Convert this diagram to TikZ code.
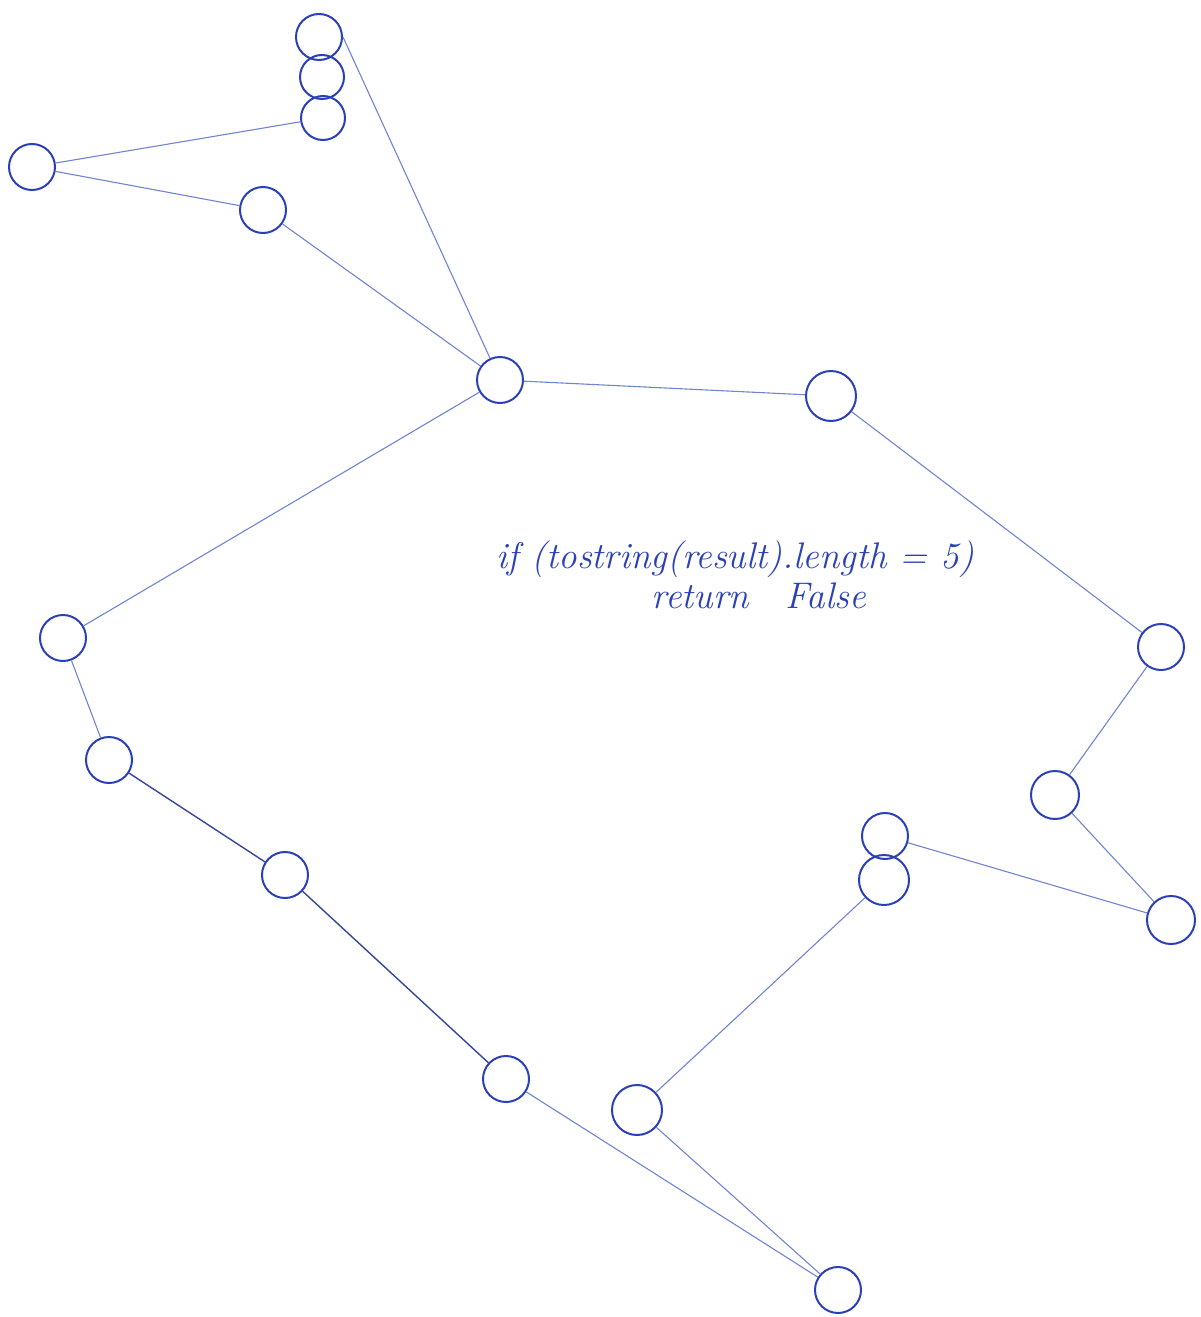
\documentclass[tikz,border=0pt]{standalone}
\usetikzlibrary{calc}
\definecolor{ink}{HTML}{2B40B8}
\definecolor{edgeink}{HTML}{6F84D2}
\definecolor{darkedge}{HTML}{34459A}
\begin{document}
\begin{tikzpicture}[x=1pt,y=-1pt,
  vtx/.style={circle,draw=ink,line width=2pt,minimum size=46pt,inner sep=0pt},
  edge/.style={draw=edgeink,line width=1.1pt},
  dedge/.style={draw=darkedge,line width=1.4pt}]
\useasboundingbox (0,0) rectangle (1201,1317);
\node[vtx] (a1) at (319,37) {};
\node[vtx,minimum size=44pt] (a2) at (322,77) {};
\node[vtx,minimum size=44pt] (a3) at (323,118) {};
\node[vtx] (b) at (32,167) {};
\node[vtx] (c) at (263,210) {};
\node[vtx] (d) at (500,380) {};
\node[vtx,minimum size=50pt] (e) at (831,396) {};
\node[vtx] (f) at (63,638) {};
\node[vtx] (g) at (109,760) {};
\node[vtx] (h) at (285,875) {};
\node[vtx] (i) at (506,1079) {};
\node[vtx,minimum size=50pt] (j) at (637,1110) {};
\node[vtx] (k) at (838,1290) {};
\node[vtx] (l) at (1161,647) {};
\node[vtx,minimum size=48pt] (m) at (1055,795) {};
\node[vtx,minimum size=48pt] (n) at (1171,920) {};
\node[vtx] (o) at (885,836) {};
\node[vtx,minimum size=50pt] (p) at (884,880) {};
\draw[edge] (a1.east) -- (d);
\draw[edge] (a3) -- (b);
\draw[edge] (b) -- (c);
\draw[edge] (c) -- (d);
\draw[edge] (d) -- (e);
\draw[edge] (d) -- (f);
\draw[edge] (e) -- (l);
\draw[edge] (f) -- (g);
\draw[dedge] (g) -- (h);
\draw[dedge] (h) -- (i);
\draw[edge] (i) -- (k);
\draw[edge] (j) -- (k);
\draw[edge] (j) -- (p);
\draw[edge] (l) -- (m);
\draw[edge] (m) -- (n);
\draw[edge] (o) -- (n);
\node[text=ink,font=\fontsize{37}{44}\selectfont\itshape,anchor=base west] (t1) at (493,568) {if (tostring(result).length = 5)};
\node[text=ink,font=\fontsize{37}{44}\selectfont\itshape,anchor=base west] (t2) at (648,608) {return\quad False};
\end{tikzpicture}
\end{document}
